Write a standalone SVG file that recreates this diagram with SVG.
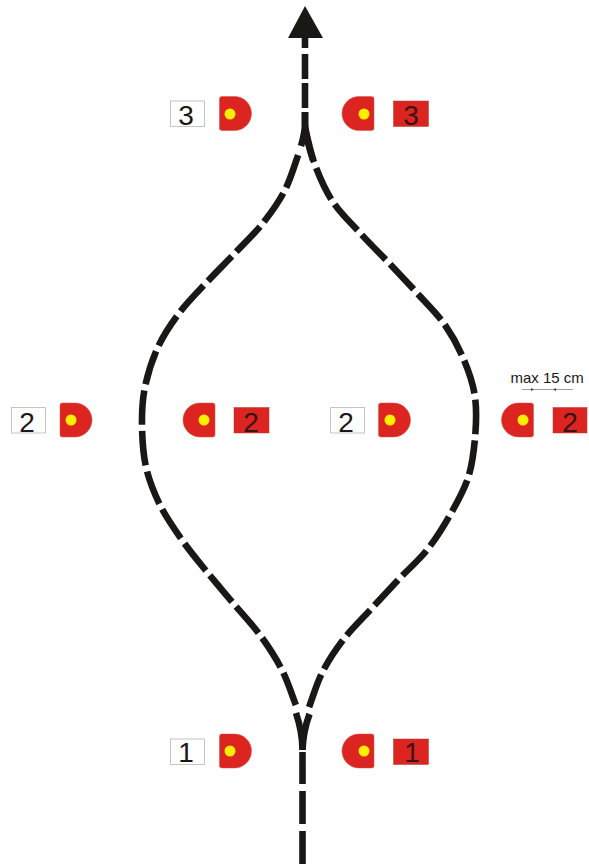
<svg xmlns="http://www.w3.org/2000/svg" width="589" height="865" viewBox="0 0 589 865">
<defs>
<style>
text{font-family:"Liberation Sans",Arial,sans-serif;fill:#1c1616}
.n{font-size:28px;text-anchor:middle}
.k{fill:#3a1212}
.w{fill:#fff;stroke:#c4c4c4;stroke-width:1}
.r{fill:#dc2420;stroke:#d65048;stroke-width:.5}
.s{fill:#dc2420;stroke:#b03a36;stroke-width:.5}
.y{fill:#ffee00}
.l{fill:none;stroke:#1a1717;stroke-width:6.600}
.d{stroke-dasharray:34.500 6.300;stroke-dashoffset:-3.200}
.t{fill:none;stroke:#777;stroke-width:.7}
</style>
<path id="dl" d="M-1.500 -15Q-1.500 -17 1 -17H13.500A17 17 0 0 1 13.500 17H1Q-1.500 17 -1.500 15Z"/>
<path id="dr" d="M1.500 -15Q1.500 -17 -1 -17H-13.500A17 17 0 0 0 -13.500 17H-1Q1.500 17 1.500 15Z"/>
</defs>
<rect width="589" height="865" fill="#fff"/>
<g id="connectors">
<path class="l" style="stroke-dasharray:33 7;stroke-dashoffset:-1" d="M302.500 865V752"/>
<path class="l" d="M302.500 750C302.500 735 300 725 296 713"/>
<path class="l" d="M302.500 750C303 735 305.500 725 309.500 714"/>
<path class="l d" d="M297 708C292 695.300 288.200 682.200 282 670C275.800 657.800 268.200 646.200 260 635C251.800 623.800 241.800 613.500 233 603C224.200 592.500 215.500 582.500 207 572C198.500 561.500 189.800 551.200 182 540C174.200 528.800 166 517.200 160 505C154 492.800 149 480.300 146 467C143 453.700 142.200 438.300 142 425C141.800 411.700 142.300 400 145 387C147.700 374 152.200 359.500 158 347C163.800 334.500 171.800 322.800 180 312C188.200 301.200 197.800 291.800 207 282C216.200 272.200 225.700 262.800 235 253C244.300 243.200 254.700 233.500 263 223C271.300 212.500 278.800 202.200 285 190C291.200 177.800 295 163.300 300 150"/>
<path class="l d" d="M308 710C312.700 697.700 316.200 684.700 322 673C327.800 661.300 334.700 650.800 343 640C351.300 629.200 362.500 618.300 372 608C381.500 597.700 390.800 587.700 400 578C409.200 568.300 418.700 560.500 427 550C435.300 539.500 443.200 527 450 515C456.800 503 463.800 490.800 468 478C472.200 465.200 473.800 451.500 475 438C476.200 424.500 476.800 410 475 397C473.200 384 469 372 464 360C459 348 452.800 336.200 445 325C437.200 313.800 426.300 303.300 417 293C407.700 282.700 398.300 272.800 389 263C379.700 253.200 370.300 244.200 361 234C351.700 223.800 340.700 213.500 333 202C325.300 190.500 319.700 177.300 315 165C310.300 152.700 308.300 140.300 305 128"/>
<path class="l" d="M305 112V124C305 131 303 139 301 146"/>
<path class="l" d="M305 112V124C306 136 309 148 313 160"/>
<path class="l" d="M305 36V48M305 54V79M305 83V108"/>
<path fill="#1a1717" d="M305 6L323 38H288Z"/>
</g>
<g id="marker-left-3"><rect class="w" x="170.500" y="101" width="34" height="25.500"/><text class="n" x="186" y="125">3</text><use href="#dl" class="r" x="221" y="113.500"/><circle class="y" cx="230" cy="114" r="5.500"/></g>
<g id="marker-right-3"><use href="#dr" class="r" x="372.500" y="113.500"/><circle class="y" cx="364" cy="114" r="5.500"/><rect class="s" x="393.500" y="101" width="35" height="25.500"/><text class="n k" x="411" y="125">3</text></g>
<g id="marker-left-2a"><rect class="w" x="11.500" y="407.500" width="34" height="25.500"/><text class="n" x="27" y="432">2</text><use href="#dl" class="r" x="61.500" y="420"/><circle class="y" cx="71" cy="420" r="5.500"/></g>
<g id="marker-right-2a"><use href="#dr" class="r" x="213.500" y="420"/><circle class="y" cx="204" cy="420" r="5.500"/><rect class="s" x="234" y="407.500" width="35" height="25.500"/><text class="n k" x="251" y="432">2</text></g>
<g id="marker-left-2b"><rect class="w" x="330.500" y="407.500" width="34" height="25.500"/><text class="n" x="346" y="432">2</text><use href="#dl" class="r" x="380" y="420"/><circle class="y" cx="390" cy="420" r="5.500"/></g>
<g id="marker-right-2b"><use href="#dr" class="r" x="532" y="420"/><circle class="y" cx="523" cy="420" r="5.500"/><rect class="s" x="553" y="407.500" width="34" height="25.500"/><text class="n k" x="570" y="432">2</text></g>
<g id="marker-left-1"><rect class="w" x="170.500" y="739" width="34" height="25.500"/><text class="n" x="186" y="762">1</text><use href="#dl" class="r" x="221" y="751"/><circle class="y" cx="230" cy="751" r="5.500"/></g>
<g id="marker-right-1"><use href="#dr" class="r" x="372.500" y="751"/><circle class="y" cx="364" cy="751" r="5.500"/><rect class="s" x="393.500" y="739" width="35" height="25.500"/><text class="n k" x="412" y="762">1</text></g>
<g id="dimension"><text x="510.500" y="382.500" font-size="15">max 15 cm</text><path class="t" d="M522 389.500H573"/><path fill="#444" d="M534 389.500l-3 -1.500v3ZM553 389.500l3 -1.500v3Z"/></g>
</svg>
